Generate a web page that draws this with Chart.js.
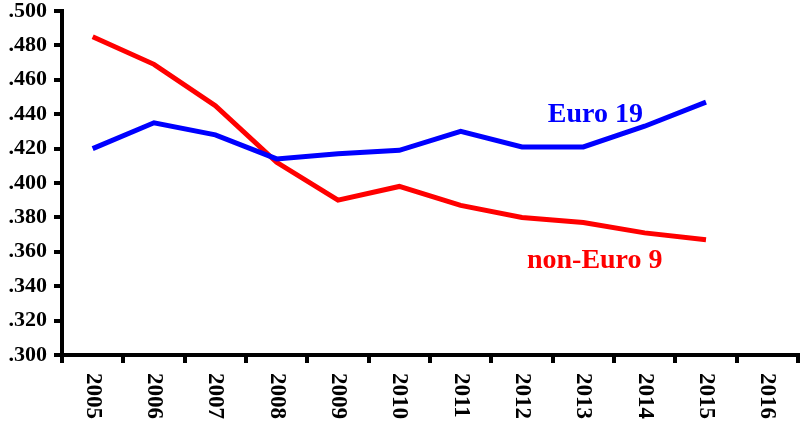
<!DOCTYPE html>
<html>
<head>
<meta charset="utf-8">
<script src="https://cdn.jsdelivr.net/npm/chart.js@4/dist/chart.umd.min.js"></script>
<style>
  html, body { margin: 0; padding: 0; background: #fff; }
  #wrap { width: 803px; height: 423px; position: relative; }
</style>
</head>
<body>
<div id="wrap"><canvas id="chart"></canvas></div>
<script>
const years = ["2005", "2006", "2007", "2008", "2009", "2010", "2011", "2012", "2013", "2014", "2015", "2016"];
const euro19 = [0.420, 0.435, 0.428, 0.414, 0.417, 0.419, 0.430, 0.421, 0.421, 0.433, 0.447, null];
const nonEuro9 = [0.485, 0.469, 0.445, 0.412, 0.390, 0.398, 0.387, 0.380, 0.377, 0.371, 0.367, null];
const seriesNames = ["Euro 19", "non-Euro 9"];

const FONT = "'Liberation Serif', 'Times New Roman', serif";

// year labels read top-to-bottom, so draw them ourselves
const yearLabels = {
  id: "yearLabels",
  afterDraw(chart) {
    const ctx = chart.ctx, x = chart.scales.x;
    ctx.save();
    ctx.fillStyle = "#000";
    ctx.font = "bold 23px " + FONT;
    ctx.textAlign = "left";
    ctx.textBaseline = "middle";
    years.forEach((y, i) => {
      ctx.save();
      ctx.translate(x.getPixelForTick(i), x.bottom + 10);
      ctx.rotate(Math.PI / 2);
      ctx.fillText(y, 0, 0);
      ctx.restore();
    });
    ctx.restore();
  }
};

// series names next to the lines
const seriesNotes = {
  id: "seriesNotes",
  afterDraw(chart) {
    const ctx = chart.ctx, x = chart.scales.x, y = chart.scales.y;
    ctx.save();
    ctx.font = "bold 28px " + FONT;
    ctx.textAlign = "left";
    ctx.textBaseline = "alphabetic";
    ctx.fillStyle = "#0000ff";
    ctx.fillText(seriesNames[0], x.getPixelForValue(7.42), y.getPixelForValue(0.4355));
    ctx.fillStyle = "#ff0000";
    ctx.fillText(seriesNames[1], x.getPixelForValue(7.08), y.getPixelForValue(0.3505));
    ctx.restore();
  }
};

new Chart(document.getElementById("chart"), {
  type: "line",
  data: {
    labels: years,
    datasets: [
      { label: seriesNames[0], data: euro19, borderColor: "#0000ff", borderWidth: 5, pointRadius: 0, tension: 0 },
      { label: seriesNames[1], data: nonEuro9, borderColor: "#ff0000", borderWidth: 5, pointRadius: 0, tension: 0 }
    ]
  },
  options: {
    responsive: true,
    maintainAspectRatio: false,
    animation: false,
    layout: { padding: { top: 11, right: 5, bottom: 60, left: 0 } },
    plugins: { legend: { display: false }, tooltip: { enabled: false } },
    scales: {
      x: {
        offset: true,
        grid: { offset: true, drawOnChartArea: false, color: "#000", lineWidth: 4, tickLength: 8 },
        border: { color: "#000", width: 4 },
        ticks: { display: false }
      },
      y: {
        min: 0.3,
        max: 0.5,
        afterFit(scale) { scale.width = 62; scale.paddingTop = 0; scale.paddingBottom = 0; },
        grid: { drawOnChartArea: false, color: "#000", lineWidth: 4, tickLength: 8 },
        border: { color: "#000", width: 4 },
        ticks: {
          stepSize: 0.02,
          padding: 7,
          color: "#000",
          font: { family: FONT, size: 22, weight: "bold" },
          callback: v => v.toFixed(3).replace(/^0/, "")
        }
      }
    }
  },
  plugins: [yearLabels, seriesNotes]
});
</script>
</body>
</html>
